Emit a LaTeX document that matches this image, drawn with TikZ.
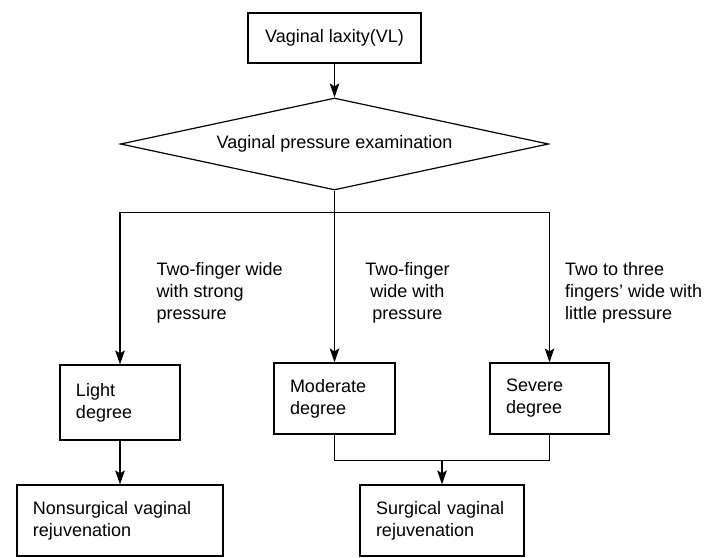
\documentclass[tikz,border=0pt]{standalone}
\usepackage{fontspec}
\setmainfont{Liberation Sans}
\usetikzlibrary{positioning,shapes.geometric,arrows.meta,calc}

\begin{document}
\begin{tikzpicture}[arrow/.style={-{Stealth[length=7pt,width=4.8pt,inset=1.5pt]}}, on grid, line width=0.6pt,
font=\fontsize{9}{11}\selectfont,
box/.style ={draw, rectangle, inner xsep=8pt, inner ysep=0pt, align=left,
minimum height=35.5pt},
note/.style ={inner sep=0pt}]
\useasboundingbox (-167.25pt,19pt) rectangle (188.25pt,-259.5pt);

\node[draw, minimum width=86.5pt, minimum height=25pt] (Root) {Vaginal laxity(VL)};
\node[draw, diamond, aspect=4.65, inner sep=0pt, minimum width=214pt, minimum height=46pt,
below=53pt of Root] (Exam) {Vaginal pressure examination};
\node[box, text width=44.5pt] (Mod) [below=127.25pt of Exam] {Moderate\\degree};
\node[box, text width=44pt, minimum height=37.5pt] (Light) [below left=2pt and 107.25pt of Mod] {Light\\degree};
\node[box, text width=43.5pt] (Sev) [right=107.5pt of Mod] {Severe\\degree};
\node[box, text width=87pt] (Nons) [below=59pt of Light] {Nonsurgical vaginal\\rejuvenation};
\coordinate (mid) at ($(Mod)!0.5!(Sev)$);
\node[box, text width=66pt] (Surg) at ($(mid)+(0,-61pt)$) {Surgical vaginal\\rejuvenation};

% branch labels
\node[note, align=left, anchor=north west] (noteLight) at ($(Light.north)+(18pt,51.5pt)$)
{Two-finger wide\\with strong\\pressure};
\node[note, align=center, anchor=north] (noteMod) at ($(Mod.north)+(36.5pt,50.5pt)$)
{Two-finger\\wide with\\pressure};
\node[note, align=left, anchor=north west] (noteSev) at ($(Sev.north)+(7.5pt,50.5pt)$)
{Two to three\\fingers’ wide with\\little pressure};

\coordinate (split) at ($(Exam.south)+(0,-11pt)$);
\coordinate (join) at ($(Mod.south)!0.5!(Sev.south)+(0,-13pt)$);

\draw[arrow] (Root) -- (Exam);
\draw[arrow] (Exam.south) -- (Mod.north);
\draw[arrow] (split) -| (Light.north);
\draw[arrow] (split) -| (Sev.north);
\draw[arrow] (Light) -- (Nons);
\draw (Mod.south) |- (join) -| (Sev.south);
\draw[arrow] (join) -- (Surg.north);
\end{tikzpicture}
\end{document}
